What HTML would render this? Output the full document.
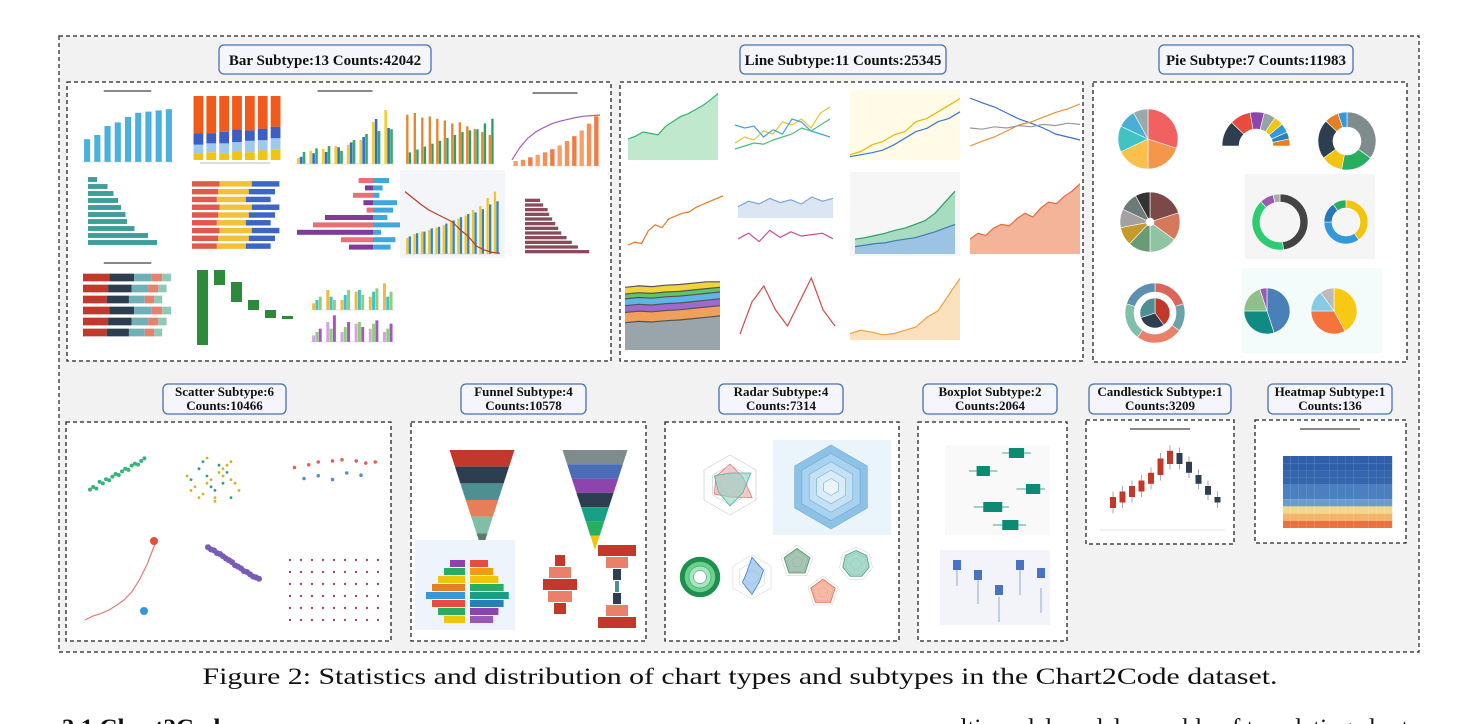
<!DOCTYPE html>
<html><head><meta charset="utf-8"><style>
html,body{margin:0;padding:0;background:#fff;width:1476px;height:724px;overflow:hidden}
svg{display:block}
.lbl{font-family:"Liberation Serif",serif;font-weight:bold;fill:#111}
</style></head><body>
<svg id="fig" width="1476" height="724" viewBox="0 0 1476 724">
<rect x="59" y="36" width="1360" height="616" fill="#f2f2f2" stroke="#222" stroke-dasharray="4,3" stroke-width="1.2"/>
<g id="boxes"></g>
<g id="thumbs"></g>
<text x="740" y="684" text-anchor="middle" font-family="Liberation Serif,serif" font-size="23" textLength="1075" lengthAdjust="spacingAndGlyphs" fill="#111">Figure 2: Statistics and distribution of chart types and subtypes in the Chart2Code dataset.</text>
<text x="62" y="736" font-family="Liberation Serif,serif" font-weight="bold" font-size="25" fill="#111">3.1   Chart2Code</text>
<text x="1418" y="736" text-anchor="end" font-family="Liberation Serif,serif" font-size="25" fill="#111">multi-modal models capable of translating charts</text>
</svg>
<script>
const NS="http://www.w3.org/2000/svg";
const panelNames=["bar","line","pie","scatter","funnel","radar","boxplot","candlestick","heatmap"];
const panelLabels1=["Bar  Subtype:13  Counts:42042","Line  Subtype:11  Counts:25345","Pie  Subtype:7  Counts:11983","Scatter  Subtype:6","Funnel Subtype:4","Radar  Subtype:4","Boxplot Subtype:2","Candlestick  Subtype:1","Heatmap Subtype:1"];
const panelLabels2=["","","","Counts:10466","Counts:10578","Counts:7314","Counts:2064","Counts:3209","Counts:136"];
const frames=[[67,82,544,279],[620,82,463,279],[1093,82,314,280],[66,422,325,219],[411,422,235,219],[665,422,234,219],[918,422,149,219],[1086,420,148,124],[1255,420,151,123]];
const labelBoxes=[[219,45,212,29],[740,45,206,29],[1159,45,194,29],[163,384,123,30],[461,384,125,30],[719,384,124,30],[923,384,134,30],[1089,384,142,30],[1268,384,124,30]];
const barVals=[38,45,60,66,75,82,84,86,88];
const stackA=[[10,12,10,14,12,15,16],[14,14,16,14,18,16,18],[18,16,18,20,16,18,18],[58,58,56,52,54,51,48]];
const grpA=[[10,22,25,30,32,40,70,90],[12,18,20,28,36,45,75,60],[20,26,30,22,40,50,55,58]];
const grpB=[[85,88,80,82,78,75,70,72,65,60,55,50],[20,25,30,35,40,45,50,55,58,60,70,78]];
const solarVals=[8,10,14,18,22,27,33,40,48,57,68,80];
const hbarVals=[12,26,34,40,44,50,52,62,80,92];
const divL=[18,10,25,12,8,60,75,95,40,30];
const divR=[20,12,8,30,25,18,35,10,28,22];
const maroonVals=[20,24,30,32,36,40,44,48,55,62,70,85];
const areaVals=[30,34,40,38,36,48,55,62,66,72,78,86,95];
const lineA=[20,30,25,40,35,55,50,60,45,70,80];
const lineB=[50,45,48,30,42,35,60,55,40,35,30];
const tempVals=[5,10,8,30,40,35,50,55,60,62,70,75,80,85,90];
const pieA=[30,20,18,14,10,8];
const pieB=[22,18,12,10,8,8,6,6];
const scatterX=[10,14,18,22,26,30,34,38,42,46,50,54,58,62,66,70,74,78];
const scatterY=[20,25,22,35,32,40,38,45,50,48,55,60,58,66,70,68,75,80];
const radarVals=[70,50,85,40,60,55];
const boxData=[[55,62,70,78,85],[20,28,35,42,50],[70,80,88,95,100],[25,35,45,55,62],[45,55,63,72,80]];
const candleOpen=[20,25,30,35,42,50,60,70,62,50,40,30];
const candleClose=[30,35,40,45,52,65,72,60,52,42,32,25];
const heatRows=10, heatCols=14;
const heatVals=[8.1,8.1,8.09,8.09,8.08,8.08,8.07,8.06,8.05,8.04];

const T=document.getElementById('thumbs'),B=document.getElementById('boxes');
function el(tag,attrs,parent){const e=document.createElementNS(NS,tag);for(const k in attrs)e.setAttribute(k,attrs[k]);(parent||T).appendChild(e);return e;}
frames.forEach((f,i)=>{
 const r=el('rect',{x:f[0],y:f[1],width:f[2],height:f[3],fill:'#fff',stroke:'#222','stroke-width':1.3,'stroke-dasharray':'4,3'},B);
 
 
 const l=labelBoxes[i];
 const lb=el('rect',{x:l[0],y:l[1],width:l[2],height:l[3],rx:5,fill:'#f4f6fb',stroke:'#4a6fb5','stroke-width':1.3},B);
 
 
 const cx=l[0]+l[2]/2;
 if(panelLabels2[i]){
  const t1=el('text',{x:cx,y:l[1]+12,'text-anchor':'middle','font-size':13,class:'lbl'},B);t1.textContent=panelLabels1[i];
  
  
  const t2=el('text',{x:cx,y:l[1]+26,'text-anchor':'middle','font-size':13,class:'lbl'},B);t2.textContent=panelLabels2[i];
  
  
 } else {
  const t=el('text',{x:cx,y:l[1]+20,'text-anchor':'middle','font-size':15,class:'lbl'},B);t.textContent=panelLabels1[i];
  
  
 }
});
function title(x,y,w){el('rect',{x:x+w*0.25,y:y,width:w*0.5,height:2,fill:'#888'});}
function axes(x,y,w,h){el('line',{x1:x,y1:y+h,x2:x+w,y2:y+h,stroke:'#ccc','stroke-width':0.6});}
function vbars(x,y,w,h,vals,colors,max){const n=vals.length,bw=w/n*0.6;max=max||Math.max(...vals);
 vals.forEach((v,i)=>{const bh=v/max*h;const r=el('rect',{x:x+i*w/n+(w/n-bw)/2,y:y+h-bh,width:bw,height:bh,fill:colors[i%colors.length]});});axes(x,y,w,h);}
function grouped(x,y,w,h,series,colors,max){const n=series[0].length,m=series.length,g=w/n,bw=g*0.7/m;
 series.forEach((s,j)=>s.forEach((v,i)=>{const bh=v/max*h;el('rect',{x:x+i*g+g*0.15+j*bw,y:y+h-bh,width:bw*0.9,height:bh,fill:colors[j]});}));axes(x,y,w,h);}
function stackV(x,y,w,h,series,colors){const n=series[0].length,g=w/n;
 for(let i=0;i<n;i++){let tot=0;series.forEach(s=>tot+=s[i]);let cy=y+h;series.forEach((s,j)=>{const bh=s[i]/tot*h;cy-=bh;el('rect',{x:x+i*g+g*0.12,y:cy,width:g*0.76,height:bh,fill:colors[j]});});}}
function hbars(x,y,w,h,vals,color,max){const n=vals.length,g=h/n;max=max||Math.max(...vals);
 vals.forEach((v,i)=>el('rect',{x:x,y:y+i*g+g*0.15,width:v/max*w,height:g*0.7,fill:color}));}
function stackH(x,y,w,h,rows,cols,colors){const g=h/rows;for(let i=0;i<rows;i++){let cx=x;cols.forEach((c,j)=>{const bw=c*w*(1-(i%3)*0.05);el('rect',{x:cx,y:y+i*g+g*0.15,width:bw,height:g*0.7,fill:colors[j]});cx+=bw;});}}
function path(x,y,w,h,vals,max,color,fill){const n=vals.length;let d='';vals.forEach((v,i)=>{d+=(i?'L':'M')+(x+i*w/(n-1)).toFixed(1)+','+(y+h-v/max*h).toFixed(1);});
 if(fill){el('path',{d:d+`L${x+w},${y+h}L${x},${y+h}Z`,fill:fill,stroke:'none'});}
 el('path',{d:d,fill:'none',stroke:color,'stroke-width':1.2});}
function pie(cx,cy,r,vals,colors,inner,start,span){start=start||-Math.PI/2;span=span||Math.PI*2;const tot=vals.reduce((a,b)=>a+b,0);let a=start;
 vals.forEach((v,i)=>{const b=a+v/tot*span;const L=(b-a)>Math.PI?1:0;
  const p=`M${cx+r*Math.cos(a)},${cy+r*Math.sin(a)}A${r},${r} 0 ${L} 1 ${cx+r*Math.cos(b)},${cy+r*Math.sin(b)}`+(inner?`L${cx+inner*Math.cos(b)},${cy+inner*Math.sin(b)}A${inner},${inner} 0 ${L} 0 ${cx+inner*Math.cos(a)},${cy+inner*Math.sin(a)}Z`:`L${cx},${cy}Z`);
  const s=el('path',{d:p,fill:colors[i%colors.length],stroke:'#fff','stroke-width':0.6});a=b;});}
function scatter(x,y,w,h,xs,ys,color,r){xs.forEach((v,i)=>el('circle',{cx:x+v/100*w,cy:y+h-ys[i]/100*h,r:r||1.6,fill:color}));}
function funnel(cx,top,w,h,colors){const n=colors.length,g=h/n;colors.forEach((c,i)=>{const w1=w*(1-i/n),w2=w*(1-(i+1)/n);el('path',{d:`M${cx-w1/2},${top+i*g}L${cx+w1/2},${top+i*g}L${cx+w2/2},${top+(i+1)*g}L${cx-w2/2},${top+(i+1)*g}Z`,fill:c});});}
function radar(cx,cy,r,vals,fill,stroke){const n=vals.length;for(let k=1;k<=3;k++){let d='';for(let i=0;i<n;i++){const a=-Math.PI/2+i*2*Math.PI/n;d+=(i?'L':'M')+(cx+r*k/3*Math.cos(a))+','+(cy+r*k/3*Math.sin(a));}el('path',{d:d+'Z',fill:'none',stroke:'#ccc','stroke-width':0.5});}
 let d='';vals.forEach((v,i)=>{const a=-Math.PI/2+i*2*Math.PI/n;d+=(i?'L':'M')+(cx+r*v/100*Math.cos(a))+','+(cy+r*v/100*Math.sin(a));});el('path',{d:d+'Z',fill:fill,stroke:stroke,'stroke-width':0.8,'fill-opacity':0.6});}
function hexbg(cx,cy,r,colors){colors.forEach((c,k)=>{const rr=r*(1-k/colors.length);let d='';for(let i=0;i<6;i++){const a=-Math.PI/2+i*Math.PI/3;d+=(i?'L':'M')+(cx+rr*Math.cos(a))+','+(cy+rr*Math.sin(a));}el('path',{d:d+'Z',fill:c,stroke:'#5a9fd0','stroke-width':0.5});});}

// BAR PANEL
title(80,90,95);vbars(82,102,92,60,barVals,['#4ab0dc'],100);
stackV(192,96,90,64,stackA,['#f1c40f','#9ec9ec','#3d5fc4','#f05a1a']);
el('rect',{x:200,y:162,width:70,height:2,fill:'#ddd'});
title(290,90,110);grouped(295,104,100,60,grpA,['#f4cf2c','#2f6fd0','#3aa86a'],100);
grouped(405,106,90,58,grpB,['#e6872f','#2e9e63'],100);
title(510,92,90);vbars(512,110,88,56,solarVals,['#f4a26a','#f39055','#ef7d4a'],90);path(512,110,88,56,[10,30,45,55,62,68,72,75,78,80,81,82],90,'#a05fc2');
hbars(88,176,75,70,hbarVals,'#3f9e9a',100);
stackH(192,180,92,70,9,[0.3,0.35,0.3],['#e0594a','#f2c13a','#3d66c4']);
divL.forEach((v,i)=>{el('rect',{x:373-v*0.8,y:178+i*7.4,width:v*0.8,height:5,fill:i%2?'#7d3c98':'#ec6f78'});el('rect',{x:373,y:178+i*7.4,width:divR[i]*0.8,height:5,fill:'#3fa7e0'});});
el('rect',{x:400,y:170,width:105,height:88,fill:'#f4f5f8'});grouped(405,190,95,64,[[20,25,28,30,33,36,40,44,48,55,60,70,78],[22,26,28,32,34,38,42,46,50,52,56,62,66]],['#f4c52a','#2f86c6'],80);path(405,190,95,64,[78,70,62,55,50,45,40,30,22,10,5,2,1],80,'#c0392b');
hbars(525,198,68,56,maroonVals,'#8a4a5a',90);
title(80,262,95);stackH(83,272,88,66,6,[0.3,0.28,0.2,0.12,0.1],['#c0392b','#2c3e50','#6fb0b8','#e8806e','#8ec9b3']);
const wf=[[0,75],[0,15],[12,20],[30,10],[40,8],[46,3]];wf.forEach((s,i)=>el('rect',{x:197+i*17,y:270+s[0],width:11,height:s[1],fill:'#2d8a3a'}));
grouped(310,280,85,30,[[20,60,30,55,40,80],[30,40,45,60,55,40],[40,30,60,45,65,55]],['#f4b740','#3ec3c8','#8fcf78'],90);
grouped(310,312,85,30,[[20,60,30,55,40,30],[30,40,45,60,55,40],[40,80,60,45,65,55]],['#d6a3e5','#8fcf78','#a058c8'],90);

// LINE PANEL
path(628,90,90,70,areaVals,100,'#35b36a','#bfe8cc');
path(735,95,95,60,lineA,100,'#e8c52f');path(735,95,95,60,lineB,100,'#3fa4dd');path(735,95,95,60,[10,15,20,18,25,30,35,45,40,50,60],100,'#4bbf77');
el('rect',{x:850,y:90,width:110,height:70,fill:'#fffbe6'});path(850,92,110,66,[5,10,20,25,35,40,55,60,70,80,90],100,'#e6b800');path(850,92,110,66,[2,5,8,12,20,30,40,45,55,60,70],100,'#3c78d8');
path(970,92,110,60,[90,82,75,65,55,48,40,30,25,20],100,'#3b6fd1');path(970,92,110,60,[10,18,25,35,45,50,58,66,72,80],100,'#e69138');path(970,92,110,60,[40,38,42,40,44,42,46,44,48,46],100,'#999');
path(628,190,95,58,tempVals,100,'#e87722');
path(738,190,95,28,[40,60,50,70,55,65,50,75,60,70],100,'#7fa6d6','#dbe6f5');path(738,222,95,28,[40,60,30,70,45,65,50,55,60,40],100,'#c44f9a');
el('rect',{x:850,y:172,width:110,height:84,fill:'#f6f6f6'});path(855,180,100,74,[20,22,25,28,32,35,40,45,55,70,85],100,'#2e9e63','#a8dcc0');path(855,180,100,74,[10,12,14,15,18,20,22,26,30,35,40],100,'#3a7fb5','#9dc3e2');
path(970,180,110,74,[20,28,25,35,40,38,48,55,50,62,70,68,78,85,95],100,'#e46a3a','#f4b49a');
[['#9aa5ab',40],['#f0a05a',55],['#9f6ad0',65],['#5db6e8',75],['#5fc46a',82],['#f1d43a',92]].reverse().forEach(c=>path(625,275,95,75,[c[1],c[1]+2,c[1]+1,c[1]+3,c[1]+4,c[1]+6,c[1]+8,c[1]+10].map(v=>Math.min(v,100)),110,'#555',c[0]));
path(740,270,95,80,[20,60,80,50,30,60,90,50,30],100,'#d34a4a');
path(850,275,110,65,[10,15,12,8,10,15,20,35,45,70,95],100,'#f0a040','#fbe1bd');

// PIE PANEL
pie(1148,139,30,pieA,['#f26161','#f5974a','#f9c04c','#3fc3c3','#4aafd4','#9aa']);
pie(1256,146,34,pieB,['#2c3e50','#e74c3c','#8e44ad','#95a5a6','#f1c40f','#3498db','#2980b9','#e67e22'],17,Math.PI,Math.PI);
pie(1347,141,29,[35,18,12,22,8,5],['#7f8c8d','#27ae60','#f1c40f','#2c3e50','#e67e22','#3498db'],14);
pie(1150,222,30,[20,15,15,12,10,10,10,8],['#7b4a48','#d47a5b','#8fc3a3','#6a9b74','#c49a2a','#a5a0a0','#6c7a7a','#333'],4);
el('rect',{x:1245,y:174,width:130,height:85,fill:'#f5f5f5'});
pie(1280,222,28,[48,40,8,4],['#444','#2ecc71','#9b59b6','#aaa'],20);pie(1346,222,22,[40,35,15,10],['#f1c40f','#3498db','#2676b8','#27ae60'],14);
pie(1155,313,30,[20,15,25,20,20],['#d9655b','#6aa2a8','#e8806a','#80c0a8','#5c8fb0'],21);pie(1155,313,15,[40,30,30],['#c0392b','#2c3e50','#4d8f92']);
el('rect',{x:1242,y:268,width:140,height:85,fill:'#f3fbfb'});
pie(1267,311,23,[45,30,20,5],['#4a7fb8','#0f8b84','#8fbf8a','#9b59b6']);pie(1334,311,23,[42,33,15,10],['#f7c915','#f5743e','#86cbe6','#bbb']);

// SCATTER PANEL
scatter(82,448,80,52,scatterX,scatterY,'#36b37e',2);
scatter(175,440,80,72,[20,40,30,50,60,25,70,45,35,55,65,75,80,15,50,40,60,30,70],[30,40,60,20,50,35,70,45,25,55,65,40,30,50,15,75,60,20,45],'#d4b02a',1.4);
scatter(175,440,80,72,[30,50,40,60,70,35,20,55,45,65],[60,30,50,40,20,70,45,65,35,55],'#2e9e80',1.4);
scatter(285,440,95,55,[10,25,35,50,60,75,85,95],[50,55,60,62,64,62,58,60],'#e06060',1.8);scatter(285,440,95,55,[20,35,50,65,80],[30,35,28,40,36],'#5b8cd6',1.8);
path(85,540,70,80,[0,5,8,12,18,25,35,50,70,95],100,'#e07b7b');el('circle',{cx:154,cy:541,r:4,fill:'#e74c3c'});el('circle',{cx:144,cy:611,r:4,fill:'#3498db'});
scatter(205,545,60,45,[5,10,15,20,25,30,35,40,45,50,55,60,65,70,75,80,85,90],[95,90,88,82,80,75,70,66,62,55,52,48,42,40,35,30,28,25],'#7a5bb8',3);
for(let i=0;i<6;i++)for(let j=0;j<9;j++)el('circle',{cx:290+j*11,cy:560+i*12,r:1.2,fill:'#9b4a7a'});

// FUNNEL PANEL
funnel(482,450,65,100,['#c0392b','#2c3e50','#4d8f92','#e67e5a','#7fbfa8','#5a7a6a']);
funnel(595,450,65,100,['#7f8c8d','#4b6cb7','#8e44ad','#2c3e50','#16a085','#27ae60','#f1c40f']);
el('rect',{x:415,y:540,width:100,height:90,fill:'#eef4fb'});
['#8e44ad','#27ae60','#f1c40f','#e67e22','#3498db','#e74c3c','#27ae60','#f1c40f'].forEach((c,i)=>{const w=10+i*4-(i>4?(i-4)*8:0);el('rect',{x:465-w*1.5,y:560+i*8,width:w*1.5,height:7,fill:c});el('rect',{x:470,y:560+i*8,width:w*1.3+5,height:7,fill:['#e74c3c','#f39c12','#f1c40f','#27ae60','#16a085','#2980b9','#8e44ad','#9b59b6'][i]});});
['#c0392b','#e8806a','#c0392b','#e8806a','#c0392b'].forEach((c,i)=>{const w=[10,22,34,24,12][i];el('rect',{x:560-w/2,y:555+i*12,width:w,height:11,fill:c});});
['#c0392b','#e8806a','#2c3e50','#4d8f92','#2c3e50','#e8806a','#c0392b'].forEach((c,i)=>{const w=[38,22,8,4,8,22,38][i];el('rect',{x:617-w/2,y:545+i*12,width:w,height:11,fill:c});});

// RADAR PANEL
radar(730,485,30,radarVals,'#f4a7a7','#e57373');radar(730,485,30,[40,80,50,70,45,60],'#8fd1c4','#4db6a5');
el('rect',{x:773,y:440,width:118,height:95,fill:'#e9f5fb'});hexbg(831,487,42,['#8dc1e6','#a9d2ef','#c4e0f4','#d9ecf8','#ebf5fb']);
['#1e8f4e','#6ad18f','#a8e6bf','#fff'].forEach((c,i)=>el('circle',{cx:700,cy:577,r:20-i*4.5,fill:c,stroke:'#1e8f4e','stroke-width':0.5}));
radar(752,577,22,[90,60,40,80,50,30],'#7fb2e6','#3a7fcf');
radar(797,562,17,[80,80,80,80,80],'#6a9e7f','#4e8a66');radar(823,592,16,[80,80,80,80,80],'#f08a6a','#e06a4a');radar(856,564,17,[80,80,80,80,80,80,80],'#6fbfa8','#4a9f88');

// BOXPLOT PANEL
el('rect',{x:945,y:445,width:105,height:90,fill:'#f9f9f9'});
boxData.forEach((b,i)=>{const yy=453+i*18,sx=v=>950+v*0.95;el('line',{x1:sx(b[0]),y1:yy,x2:sx(b[4]),y2:yy,stroke:'#0d8a73','stroke-width':0.8});const r=el('rect',{x:sx(b[1]),y:yy-5,width:sx(b[3])-sx(b[1]),height:10,fill:'#0d8a73'});});
el('rect',{x:940,y:550,width:110,height:75,fill:'#f2f4fa'});
[[10,15],[40,5],[70,-5],[25,40],[55,25]].forEach((p,i)=>{el('line',{x1:957+i*21,y1:555+p[0]*0.6,x2:957+i*21,y2:580+p[0]*0.6,stroke:'#4a72c4','stroke-width':0.6});el('rect',{x:953+i*21,y:560+(i==2?25:i==1?10:i==4?8:0),width:8,height:10,fill:'#4a72c4'});});

// CANDLESTICK PANEL
title(1100,428,120);
candleOpen.forEach((o,i)=>{const c=candleClose[i],sy=v=>530-v*1.1,x=1110+i*9.5;el('line',{x1:x+3,y1:sy(Math.max(o,c)+5),x2:x+3,y2:sy(Math.min(o,c)-5),stroke:'#555','stroke-width':0.5});const r=el('rect',{x:x,y:sy(Math.max(o,c)),width:6,height:Math.abs(c-o)*1.1,fill:c>o?'#c0392b':'#2c3e50'});});
axes(1100,470,125,60);

// HEATMAP PANEL
title(1270,428,120);
const heatColors=['#2e5fa8','#3466ae','#3b70b6','#4a80c0','#6a9bcf','#9fc3df','#f2d98a','#f5b36b','#f08c55','#e8733f'];
for(let r=0;r<heatRows;r++)for(let c=0;c<heatCols;c++){const q=el('rect',{x:1283+c*7.8,y:456+r*7.2,width:7.8,height:7.2,fill:heatColors[Math.min(9,Math.round((8.10-heatVals[r])*150))]});if(r==0&&c==0){}}
</script>
</body></html>
